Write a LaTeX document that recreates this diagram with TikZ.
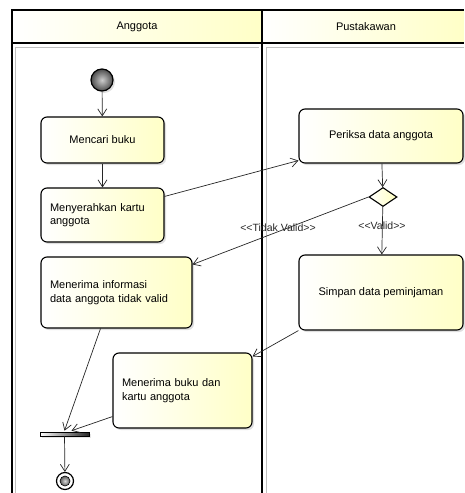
\documentclass[tikz,border=0pt]{standalone}
\usepackage{fontspec}
\setmainfont{Liberation Sans}
\newfontfamily\plainfont{Liberation Sans}
\usetikzlibrary{arrows.meta,shapes.geometric,calc,shadows}
\begin{document}
\begin{tikzpicture}[x=1pt,y=-1pt,
  every node/.style={font=\fontsize{11}{13.5}\selectfont},
  act/.style={draw=black, line width=1.1pt, rounded corners=6pt, left color=white, right color=yellow!22,
    drop shadow={shadow xshift=2pt, shadow yshift=-2pt, opacity=0.25}, inner sep=0pt},
  actl/.style={act, align=left, inner xsep=9pt},
  flow/.style={draw=black!85, line width=0.7pt, -{Straight Barb[length=7pt,width=9pt]}},
  lbl/.style={font=\plainfont\fontsize{10.5}{12}\selectfont, text=black!85},
  hdr/.style={left color=white, right color=yellow!22}]
\useasboundingbox (0,0) rectangle (464,493);
% swimlanes
\fill[hdr] (12,10) rectangle (262,43);
\fill[hdr] (262,10) rectangle (464,43);
\draw[black!25, line width=0.8pt] (15,47) -- (15,493);
\draw[black!25, line width=0.8pt] (15,47) -- (259,47);
\draw[black!25, line width=0.8pt] (266,47) -- (464,47);
\draw[black!25, line width=0.8pt] (266,47) -- (266,493);
\draw[line width=1.2pt] (12,493) -- (12,10) -- (464,10);
\draw[line width=1.2pt] (12,43) -- (464,43);
\draw[line width=1.2pt] (262,10) -- (262,493);
\node (hA) at (137,27) {Anggota};
\node (hP) at (366,27) {Pustakawan};
% nodes
\node[circle, draw=black, line width=1.2pt, inner color=gray!40, outer color=black!70, minimum size=22pt, inner sep=0pt,
  drop shadow={shadow xshift=2pt, shadow yshift=-2pt, opacity=0.25}] (start) at (102,80) {};
\node[act, minimum width=123pt, minimum height=46pt] (mencari) at (102.5,140) {Mencari buku};
\node[actl, text width=105pt, minimum height=54pt] (serah) at (102.5,215) {Menyerahkan kartu\\anggota};
\node[actl, text width=133pt, minimum height=71pt] (info) at (116.5,292.5) {Menerima informasi\\data anggota tidak valid};
\node[act, minimum width=164pt, minimum height=54pt] (periksa) at (381,136) {Periksa data anggota};
\node[diamond, draw=black, line width=1.1pt, left color=white, right color=yellow!25, minimum width=28pt, minimum height=19pt, inner sep=0pt, aspect=1.5] (dec) at (383,197) {};
\node[act, minimum width=164pt, minimum height=75pt] (simpan) at (381,292.5) {Simpan data peminjaman};
\node[actl, text width=121pt, minimum height=75pt] (buku) at (182.5,390.5) {Menerima buku dan\\kartu anggota};
\node[draw=black, line width=0.6pt, left color=white, right color=black!85, minimum width=49pt, minimum height=4pt, inner sep=0pt,
  drop shadow={shadow xshift=2pt, shadow yshift=-2pt, opacity=0.2}] (fork) at (64.5,434) {};
\node[circle, draw=black, line width=1.2pt, fill=white, minimum size=17pt, inner sep=0pt] (end) at (65,481) {};
\node[circle, draw=black, line width=0.6pt, inner color=gray!30, outer color=black!65, minimum size=10pt, inner sep=0pt] (endin) at (end) {};
% flows
\draw[flow] (start) -- (mencari);
\draw[flow] (mencari) -- (serah);
\draw[flow] ($(serah.north east)+(0,9)$) -- ($(periksa.south west)+(0,-3)$);
\draw[flow] (periksa) -- (dec);
\draw[flow] (dec.west) -- ($(info.north east)+(0,8)$);
\node[lbl] (tv) at (278,228) {<<Tidak Valid>>};
\draw[flow] (dec) -- (simpan);
\node[lbl] (v) at (382,226) {<<Valid>>};
\draw[flow] (simpan.south west) -- ($(buku.north east)+(0,4)$);
\draw[flow] ($(info.south)+(-16,0)$) -- ($(fork.north)+(0,-1)$);
\draw[flow] ($(buku.south west)+(0,-12)$) -- ($(fork.north)+(7,-1)$);
\draw[flow] (fork) -- (end);
\end{tikzpicture}
\end{document}
